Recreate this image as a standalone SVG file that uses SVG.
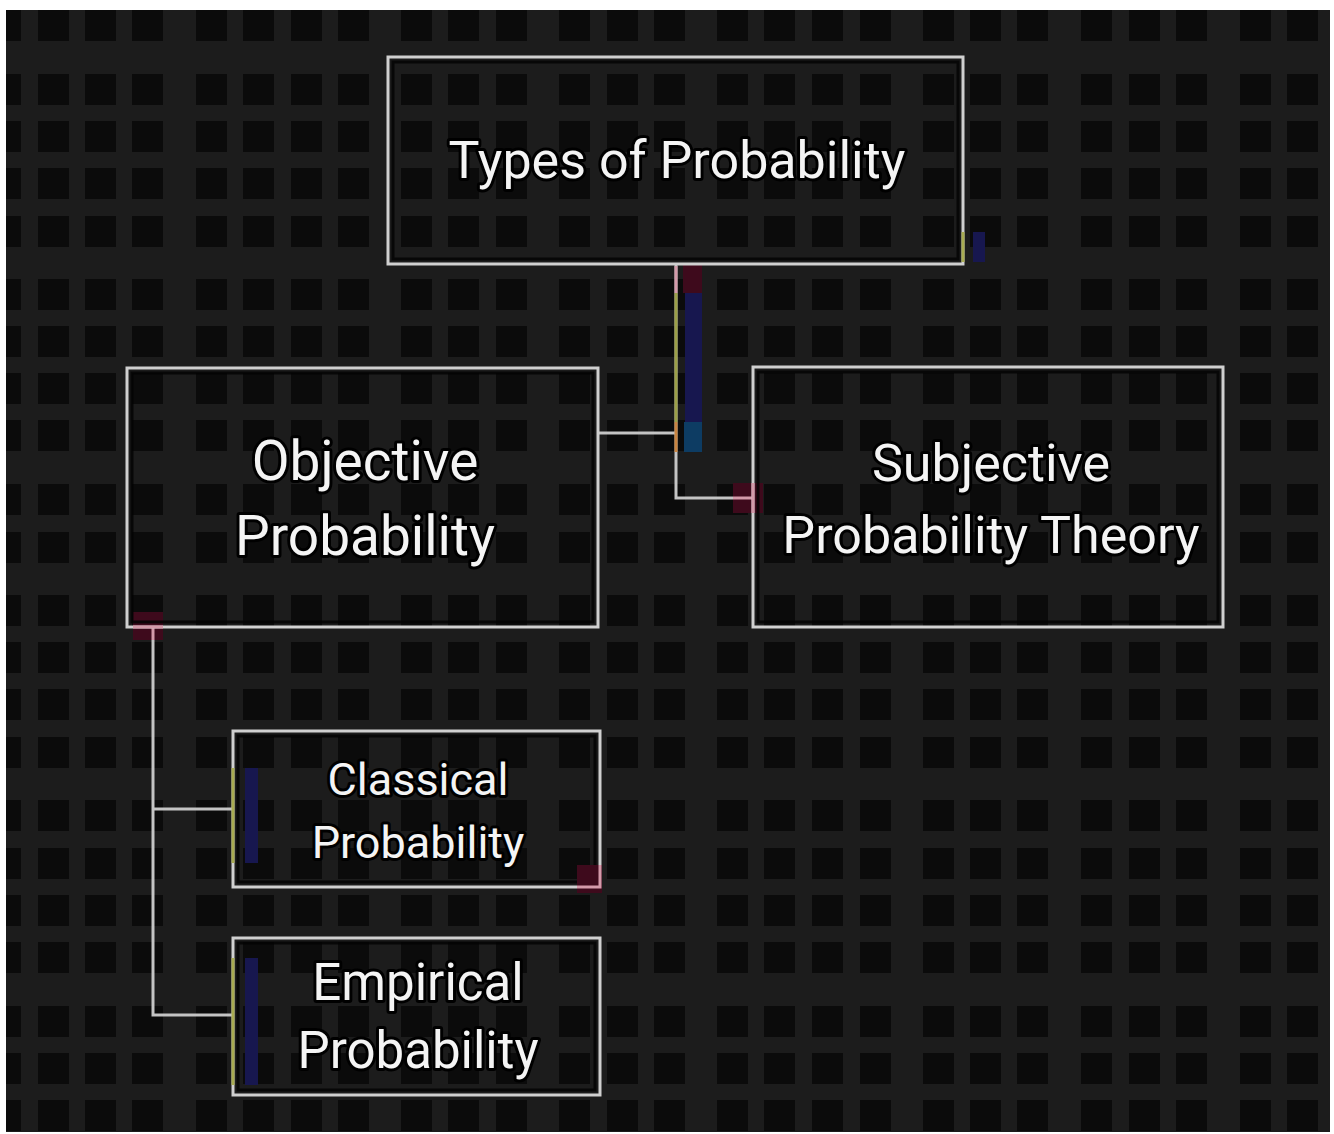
<svg xmlns="http://www.w3.org/2000/svg" xmlns:xlink="http://www.w3.org/1999/xlink" width="1334" height="1134" viewBox="0 0 1334 1134">
<defs>
<style>
.box{fill:none;stroke:#d0d0d0;stroke-width:3}
.inner{fill:none;stroke:#030303;stroke-width:3;opacity:.85}
.lbl{font-family:Roboto,"Liberation Sans",sans-serif;fill:#f4f4f4;stroke:#000;stroke-width:6;stroke-linejoin:round;paint-order:stroke;text-anchor:middle}
.wire{fill:none;stroke:#c4c4c4;stroke-width:3}
.sq{fill:#0b0b0b}
.dred{fill:#3e0a1c}
.navy{fill:#17174f}
</style>
<clipPath id="dark"><rect x="6" y="10" width="1324" height="1122"/></clipPath>
<g id="bgrow">
<rect class="sq" x="-10" y="0" width="31" height="31"/>
<rect class="sq" x="38" y="0" width="31" height="31"/>
<rect class="sq" x="85" y="0" width="31" height="31"/>
<rect class="sq" x="132" y="0" width="31" height="31"/>
<rect class="sq" x="196" y="0" width="31" height="31"/>
<rect class="sq" x="243" y="0" width="31" height="31"/>
<rect class="sq" x="291" y="0" width="31" height="31"/>
<rect class="sq" x="338" y="0" width="31" height="31"/>
<rect class="sq" x="401" y="0" width="31" height="31"/>
<rect class="sq" x="448" y="0" width="31" height="31"/>
<rect class="sq" x="496" y="0" width="31" height="31"/>
<rect class="sq" x="559" y="0" width="31" height="31"/>
<rect class="sq" x="607" y="0" width="31" height="31"/>
<rect class="sq" x="654" y="0" width="31" height="31"/>
<rect class="sq" x="717" y="0" width="31" height="31"/>
<rect class="sq" x="764" y="0" width="31" height="31"/>
<rect class="sq" x="812" y="0" width="31" height="31"/>
<rect class="sq" x="860" y="0" width="31" height="31"/>
<rect class="sq" x="923" y="0" width="31" height="31"/>
<rect class="sq" x="970" y="0" width="31" height="31"/>
<rect class="sq" x="1017" y="0" width="31" height="31"/>
<rect class="sq" x="1081" y="0" width="31" height="31"/>
<rect class="sq" x="1129" y="0" width="31" height="31"/>
<rect class="sq" x="1176" y="0" width="31" height="31"/>
<rect class="sq" x="1240" y="0" width="31" height="31"/>
<rect class="sq" x="1287" y="0" width="31" height="31"/>
</g>
</defs>
<rect width="1334" height="1134" fill="#ffffff"/>
<rect x="6" y="10" width="1324" height="1122" fill="#1c1c1c"/>
<g id="background" clip-path="url(#dark)">
<use xlink:href="#bgrow" y="10"/>
<use xlink:href="#bgrow" y="74"/>
<use xlink:href="#bgrow" y="121"/>
<use xlink:href="#bgrow" y="168"/>
<use xlink:href="#bgrow" y="216"/>
<use xlink:href="#bgrow" y="279"/>
<use xlink:href="#bgrow" y="326"/>
<use xlink:href="#bgrow" y="373"/>
<use xlink:href="#bgrow" y="420"/>
<use xlink:href="#bgrow" y="484"/>
<use xlink:href="#bgrow" y="532"/>
<use xlink:href="#bgrow" y="595"/>
<use xlink:href="#bgrow" y="642"/>
<use xlink:href="#bgrow" y="689"/>
<use xlink:href="#bgrow" y="737"/>
<use xlink:href="#bgrow" y="800"/>
<use xlink:href="#bgrow" y="848"/>
<use xlink:href="#bgrow" y="895"/>
<use xlink:href="#bgrow" y="942"/>
<use xlink:href="#bgrow" y="1006"/>
<use xlink:href="#bgrow" y="1053"/>
<use xlink:href="#bgrow" y="1100"/>
</g>

<g id="connectors">
<path class="wire" d="M676 265 V498 H753"/>
<path class="wire" d="M598 433 H676"/>
<path class="wire" d="M153 627 V1015 H233"/>
<path class="wire" d="M153 809 H233"/>
<!-- coloured highlights -->
<rect class="dred" x="683" y="265" width="19" height="28"/>
<rect class="navy" x="685" y="293" width="17" height="129"/>
<rect x="684" y="422" width="18" height="30" fill="#0d3c63"/>
<line x1="676" y1="266" x2="676" y2="293" stroke="#d49aaa" stroke-width="3"/>
<line x1="676" y1="293" x2="676" y2="422" stroke="#9ca048" stroke-width="3"/>
<line x1="676" y1="422" x2="676" y2="452" stroke="#c98440" stroke-width="3"/>
<rect class="dred" x="733" y="483" width="30" height="30"/>
<line x1="733" y1="498" x2="753" y2="498" stroke="#d49aaa" stroke-width="3"/>
<rect class="dred" x="133" y="612" width="30" height="28"/>
<line x1="153" y1="627" x2="153" y2="640" stroke="#d49aaa" stroke-width="3"/>
</g>

<g id="node-types">
<rect class="box" x="388" y="57" width="575" height="207"/>
<rect class="inner" x="393" y="62" width="565" height="197"/>
<line x1="963" y1="232" x2="963" y2="262" stroke="#a9ac52" stroke-width="3"/>
<rect class="navy" x="973" y="232" width="12" height="30"/>
<text class="lbl" x="677" y="178" font-size="52">Types of Probability</text>
</g>

<g id="node-objective">
<rect class="box" x="127" y="368" width="471" height="259"/>
<rect class="inner" x="132" y="373" width="461" height="249"/>
<line x1="133" y1="627" x2="163" y2="627" stroke="#d49aaa" stroke-width="3"/>
<text class="lbl" x="365" y="480" font-size="55">Objective</text>
<text class="lbl" x="365" y="555" font-size="55">Probability</text>
</g>

<g id="node-subjective">
<rect class="box" x="753" y="367" width="470" height="260"/>
<rect class="inner" x="758" y="372" width="460" height="250"/>
<line x1="753" y1="483" x2="753" y2="513" stroke="#d49aaa" stroke-width="3"/>
<text class="lbl" x="991" y="481" font-size="52">Subjective</text>
<text class="lbl" x="991" y="553" font-size="52">Probability Theory</text>
</g>

<g id="node-classical">
<rect class="box" x="233" y="731" width="367" height="156"/>
<rect class="inner" x="238" y="736" width="357" height="146"/>
<line x1="233" y1="768" x2="233" y2="863" stroke="#a9ac52" stroke-width="3"/>
<rect class="navy" x="245" y="768" width="13" height="95"/>
<rect class="dred" x="577" y="865" width="25" height="28"/>
<path d="M577 887 H600 V865" fill="none" stroke="#d49aaa" stroke-width="3"/>
<text class="lbl" x="418" y="795" font-size="45">Classical</text>
<text class="lbl" x="418" y="858" font-size="45">Probability</text>
</g>

<g id="node-empirical">
<rect class="box" x="233" y="938" width="367" height="157"/>
<rect class="inner" x="238" y="943" width="357" height="147"/>
<line x1="233" y1="958" x2="233" y2="1085" stroke="#a9ac52" stroke-width="3"/>
<rect class="navy" x="245" y="958" width="13" height="127"/>
<text class="lbl" x="418" y="1000" font-size="51">Empirical</text>
<text class="lbl" x="418" y="1068" font-size="51">Probability</text>
</g>
</svg>
